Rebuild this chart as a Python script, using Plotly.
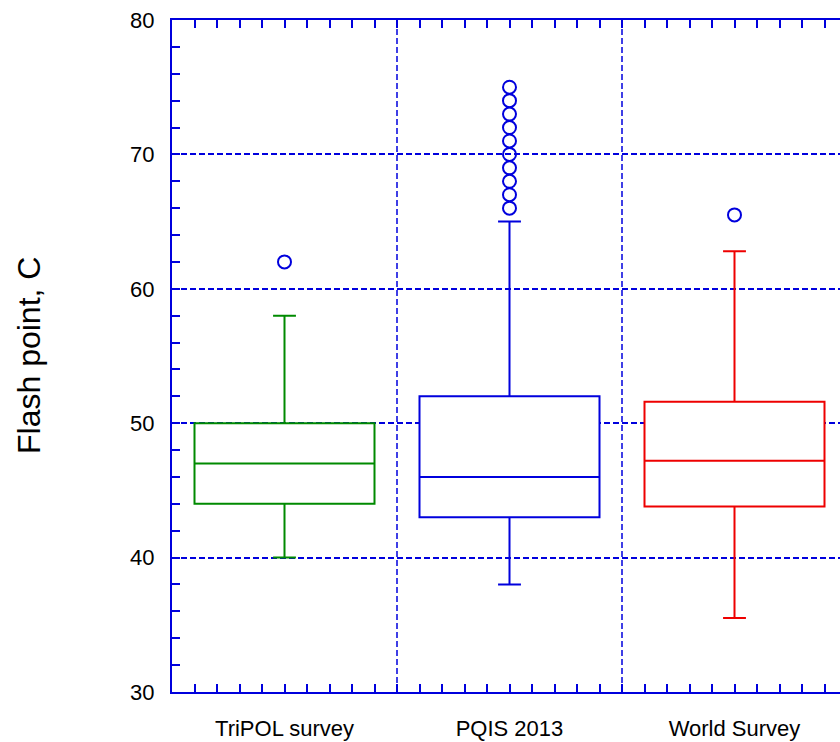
import plotly.graph_objects as go

# Box-plot summary statistics for flash point (deg C) by survey
categories = ["TriPOL survey", "PQIS 2013", "World Survey"]
lower_whisker = [40.0, 38.0, 35.5]
q1 = [44.0, 43.0, 43.8]
median = [47.0, 46.0, 47.2]
q3 = [50.0, 52.0, 51.6]
upper_whisker = [58.0, 65.0, 62.8]

# Outlying observations per survey
outliers = [
    [62.0],
    [66, 67, 68, 69, 70, 71, 72, 73, 74, 75],
    [65.5],
]

y_ticks = [30, 40, 50, 60, 70, 80]

box_colors = ["#008A00", "#0000DD", "#EE0000"]
axis_blue = "#0000DD"
font_family = "Liberation Sans, Arial, sans-serif"

fig = go.Figure()

positions = list(range(len(categories)))

for i, name in enumerate(categories):
    fig.add_trace(go.Box(
        x=[positions[i]],
        q1=[q1[i]],
        median=[median[i]],
        q3=[q3[i]],
        lowerfence=[lower_whisker[i]],
        upperfence=[upper_whisker[i]],
        name=name,
        width=0.8,
        whiskerwidth=0.127,
        boxpoints=False,
        fillcolor="white",
        line=dict(color=box_colors[i], width=2),
        showlegend=False,
    ))

for i, pts in enumerate(outliers):
    fig.add_trace(go.Scatter(
        x=[positions[i]] * len(pts),
        y=pts,
        mode="markers",
        marker=dict(symbol="circle-open", size=13, color=axis_blue,
                    line=dict(color=axis_blue, width=2)),
        showlegend=False,
        hoverinfo="y",
    ))

# Dashed separators between survey groups
for b in [0.5, 1.5]:
    fig.add_shape(type="line", xref="x", yref="paper", x0=b, x1=b, y0=0, y1=1,
                  line=dict(color=axis_blue, width=1.5, dash="6px,3px"),
                  layer="below")

plot_left, plot_top, plot_bottom = 172, 20, 692
W, H = 840, 742
px_per_cat = 225.0
x_max = -0.5 + (W - plot_left) / px_per_cat

fig.update_layout(
    width=W, height=H,
    margin=dict(l=plot_left, r=0, t=plot_top, b=H - plot_bottom),
    paper_bgcolor="white",
    plot_bgcolor="white",
    boxmode="overlay",
    font=dict(family=font_family, color="black"),
    xaxis=dict(
        range=[-0.5, x_max],
        tickmode="array",
        tickvals=positions,
        ticktext=categories,
        tickfont=dict(size=22, family=font_family, color="black"),
        ticks="inside", ticklen=8, tickwidth=2, tickcolor=axis_blue,
        ticklabelstandoff=16,
        minor=dict(tick0=-0.5, dtick=0.1, ticks="inside", ticklen=8,
                   tickwidth=2, tickcolor=axis_blue, showgrid=False),
        showline=True, linecolor=axis_blue, linewidth=2,
        mirror="allticks",
        showgrid=False, zeroline=False,
        fixedrange=True,
    ),
    yaxis=dict(
        range=[30, 80],
        tickmode="array",
        tickvals=y_ticks,
        ticktext=[str(v) for v in y_ticks],
        tickfont=dict(size=22, family=font_family, color="black"),
        ticks="inside", ticklen=8, tickwidth=2, tickcolor=axis_blue,
        ticklabelstandoff=11,
        minor=dict(tick0=30, dtick=2, ticks="inside", ticklen=8,
                   tickwidth=2, tickcolor=axis_blue, showgrid=False),
        showline=True, linecolor=axis_blue, linewidth=2,
        mirror=False,
        showgrid=True, gridcolor=axis_blue, gridwidth=1.5,
        griddash="6px,3px",
        zeroline=False,
        fixedrange=True,
    ),
    annotations=[dict(
        text="Flash point, C",
        xref="paper", yref="paper",
        x=(29 - plot_left) / (W - plot_left), y=0.5,
        xanchor="center", yanchor="middle",
        textangle=-90, showarrow=False,
        font=dict(size=32, family=font_family, color="black"),
    )],
)

fig.write_html("out.html")
